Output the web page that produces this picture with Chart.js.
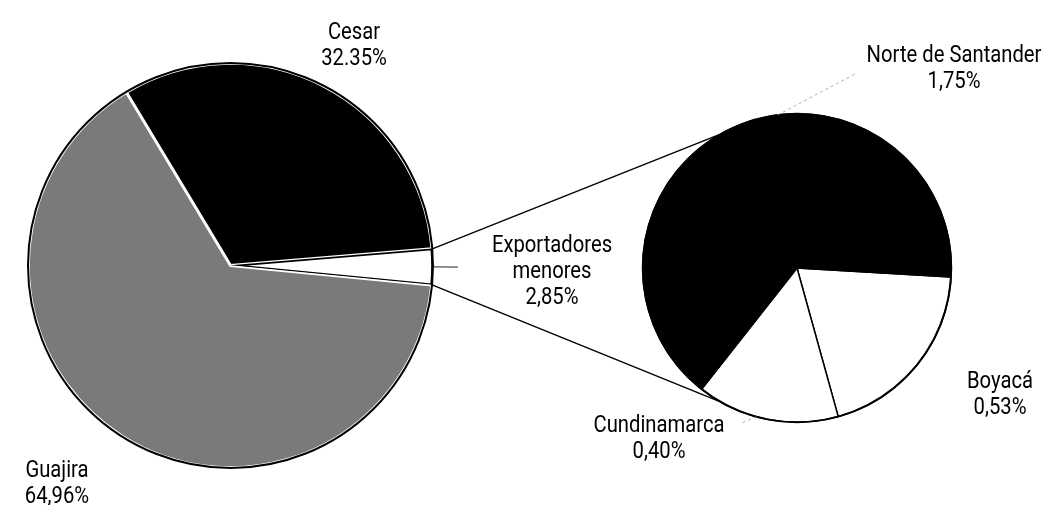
<!DOCTYPE html>
<html>
<head>
<meta charset="utf-8">
<script src="https://cdn.jsdelivr.net/npm/chart.js@4"></script>
<style>
  html, body { margin: 0; padding: 0; background: #fff; }
  #wrap { position: relative; width: 1050px; height: 505px; overflow: hidden; }
  #wrap canvas { position: absolute; left: 0; top: 0; }
</style>
</head>
<body>
<div id="wrap">
  <canvas id="main" width="1050" height="505"></canvas>
  <canvas id="detail" width="1050" height="505"></canvas>
</div>
<script>
// main pie
const mainCategories = ["Cesar", "Exportadores menores", "Guajira"];
const mainValues = [32.35, 2.85, 64.96];
const mainValueLabels = ["32.35%", "2,85%", "64,96%"];

// breakdown of "Exportadores menores"
const detailCategories = ["Boyacá", "Cundinamarca", "Norte de Santander"];
const detailValues = [0.53, 0.40, 1.75];
const detailValueLabels = ["0,53%", "0,40%", "1,75%"];

const FONT = "23px Roboto";
const TEXT_SX = 0.88;
const LINE_H = 26;

// where each label sits (centre x, first baseline)
const labelLayout = {
	"Cesar": { x: 354, y: 39 },
	"Exportadores menores": { x: 552, y: 252, lines: ["Exportadores", "menores"] },
	"Guajira": { x: 57, y: 477 },
	"Boyacá": { x: 1000, y: 388 },
	"Cundinamarca": { x: 659, y: 432 },
	"Norte de Santander": { x: 954, y: 62 },
};

const mainCtx = document.getElementById("main").getContext("2d");

function drawLabel(ctx, name, value) {
	const pos = labelLayout[name];
	const lines = (pos.lines || [name]).concat([value]);
	ctx.save();
	ctx.font = FONT;
	ctx.fillStyle = "#000";
	ctx.textAlign = "center";
	ctx.textBaseline = "alphabetic";
	lines.forEach((line, i) => {
		ctx.save();
		ctx.translate(pos.x, pos.y + i * LINE_H);
		ctx.scale(TEXT_SX, 1);
		ctx.fillText(line, 0, 0);
		ctx.restore();
	});
	ctx.restore();
}

function arcGeom(chart, i) {
	return chart.getDatasetMeta(0).data[i].getProps(["x", "y", "startAngle", "endAngle", "outerRadius"], true);
}

function onCircle(g, angle, r) {
	return { x: g.x + Math.cos(angle) * r, y: g.y + Math.sin(angle) * r };
}

function outline(chart) {
	const g = arcGeom(chart, 0);
	const ctx = chart.ctx;
	ctx.save();
	ctx.strokeStyle = "#000";
	ctx.lineWidth = 2;
	ctx.beginPath();
	ctx.arc(g.x, g.y, g.outerRadius, 0, Math.PI * 2);
	ctx.stroke();
	ctx.restore();
}

const mainDecor = {
	id: "mainDecor",
	afterDatasetsDraw(chart) {
		const ctx = chart.ctx;
		outline(chart);

		// short tick off the small slice
		const g = arcGeom(chart, 1);
		const mid = (g.startAngle + g.endAngle) / 2;
		const a = onCircle(g, mid, g.outerRadius);
		const b = onCircle(g, mid, g.outerRadius + 25);
		ctx.save();
		ctx.strokeStyle = "#222";
		ctx.lineWidth = 1;
		ctx.beginPath();
		ctx.moveTo(a.x, a.y);
		ctx.lineTo(b.x, b.y);
		ctx.stroke();
		ctx.restore();

		mainCategories.forEach((name, i) => drawLabel(ctx, name, mainValueLabels[i]));
	},
};

const mainChart = new Chart(mainCtx, {
	type: "pie",
	data: {
		labels: mainCategories,
		datasets: [
			{
				data: mainValues,
				backgroundColor: ["#000", "#fff", "#7a7a7a"],
				borderColor: ["#fff", "#000", "#fff"],
				borderWidth: 1.5,
				borderAlign: "inner",
				hoverOffset: 0,
			},
		],
	},
	options: {
		responsive: false,
		animation: false,
		events: [],
		rotation: -31,
		layout: { padding: { left: 28, top: 63, right: 617, bottom: 37 } },
		plugins: { legend: { display: false }, tooltip: { enabled: false } },
	},
	plugins: [mainDecor],
});

const detailDecor = {
	id: "detailDecor",
	afterDatasetsDraw(chart) {
		const ctx = chart.ctx;
		outline(chart);

		// lines joining the small slice to the breakdown pie
		const src = arcGeom(mainChart, 1);
		const dst = arcGeom(chart, 0);
		const p1 = onCircle(src, src.startAngle, src.outerRadius);
		const p2 = onCircle(src, src.endAngle, src.outerRadius);
		const q1 = onCircle(dst, -Math.PI * 2 / 3, dst.outerRadius);
		const q2 = onCircle(dst, Math.PI * 2 / 3, dst.outerRadius);
		ctx.save();
		ctx.strokeStyle = "#000";
		ctx.lineWidth = 1.4;
		ctx.beginPath();
		ctx.moveTo(p1.x, p1.y);
		ctx.lineTo(q1.x, q1.y);
		ctx.moveTo(p2.x, p2.y);
		ctx.lineTo(q2.x, q2.y);
		ctx.stroke();

		// faint leaders
		ctx.strokeStyle = "#999";
		ctx.lineWidth = 0.8;
		ctx.setLineDash([3, 3]);
		const n0 = onCircle(dst, -Math.PI * 0.54, dst.outerRadius);
		ctx.beginPath();
		ctx.moveTo(n0.x, n0.y);
		ctx.lineTo(labelLayout["Norte de Santander"].x - 99, labelLayout["Norte de Santander"].y + 12);
		const c0 = onCircle(dst, Math.PI * 0.585, dst.outerRadius);
		ctx.moveTo(c0.x, c0.y);
		ctx.lineTo(c0.x - 14, c0.y + 6);
		ctx.stroke();
		ctx.restore();

		detailCategories.forEach((name, i) => drawLabel(ctx, name, detailValueLabels[i]));
	},
};

const detailChart = new Chart(document.getElementById("detail"), {
	type: "pie",
	data: {
		labels: detailCategories,
		datasets: [
			{
				data: detailValues,
				backgroundColor: ["#fff", "#fff", "#000"],
				borderColor: "#000",
				borderWidth: 1.5,
				hoverOffset: 0,
			},
		],
	},
	options: {
		responsive: false,
		animation: false,
		events: [],
		rotation: 93.3,
		layout: { padding: { left: 642, top: 113, right: 98, bottom: 82 } },
		plugins: { legend: { display: false }, tooltip: { enabled: false } },
	},
	plugins: [detailDecor],
});
</script>
</body>
</html>
